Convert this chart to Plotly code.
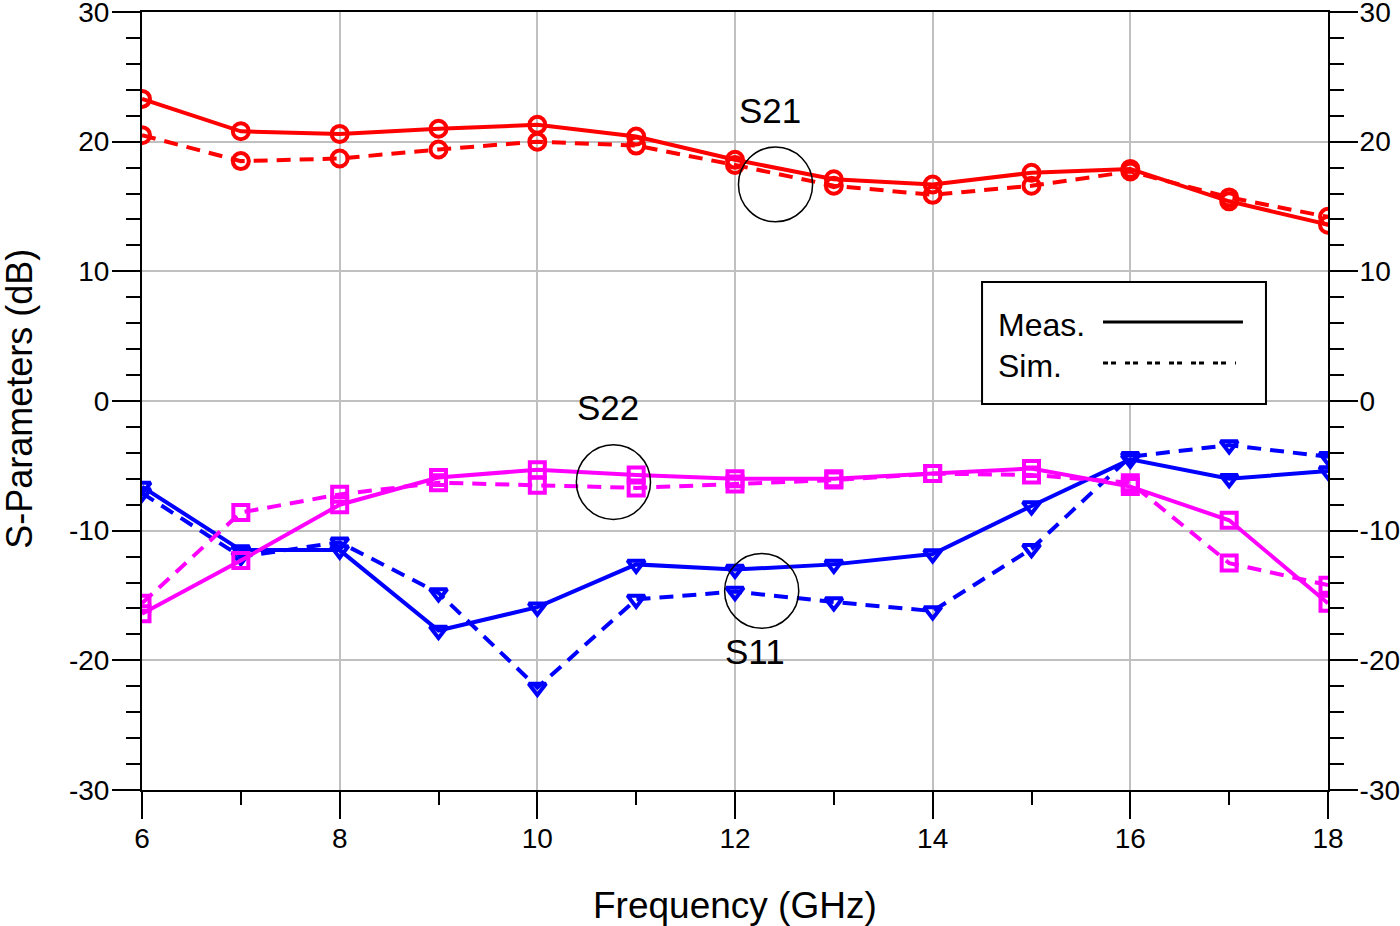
import plotly.graph_objects as go

# frequency points (GHz)
freq = [6, 7, 8, 9, 10, 11, 12, 13, 14, 15, 16, 17, 18]

# S21
s21_meas = [23.3, 20.8, 20.6, 21.0, 21.3, 20.4, 18.6, 17.1, 16.7, 17.6, 17.9, 15.4, 13.6]
s21_sim = [20.5, 18.5, 18.7, 19.4, 20.0, 19.7, 18.2, 16.6, 15.9, 16.6, 17.7, 15.7, 14.2]

# S22
s22_meas = [-16.4, -12.3, -8.0, -5.9, -5.3, -5.7, -6.0, -6.0, -5.6, -5.2, -6.6, -9.2, -15.6]
s22_sim = [-15.6, -8.6, -7.2, -6.3, -6.5, -6.7, -6.4, -6.1, -5.6, -5.7, -6.3, -12.5, -14.2]

# S11
s11_meas = [-6.6, -11.5, -11.5, -17.7, -15.9, -12.6, -13.0, -12.6, -11.8, -8.1, -4.5, -6.0, -5.4]
s11_sim = [-7.1, -12.0, -10.9, -14.8, -22.1, -15.3, -14.7, -15.5, -16.2, -11.4, -4.3, -3.4, -4.3]

# tick labels (plain hyphen like the original)
x_ticks = [6, 8, 10, 12, 14, 16, 18]
y_ticks = [-30, -20, -10, 0, 10, 20, 30]
y_ticklabels = ['-30', '-20', '-10', '0', '10', '20', '30']

# labels with circles: name, circle centre (GHz, dB), label position (GHz, dB)
labels = ['S21', 'S22', 'S11']
circle_x = [12.41, 10.77, 12.27]
circle_y = [16.7, -6.25, -14.65]
label_x = [12.35, 10.72, 12.2]
label_y = [22.4, -0.5, -19.35]

FONT = 'Arial, Liberation Sans, sans-serif'
DASH = '14px,9px'

fig = go.Figure()

series = [
    (s11_meas, s11_sim, '#0000FF', 'triangle-down-open', 15),
    (s22_meas, s22_sim, '#FF00FF', 'square-open', 15),
    (s21_meas, s21_sim, '#FF0000', 'circle-open', 16),
]
for meas, sim, color, symbol, msize in series:
    fig.add_trace(go.Scatter(x=freq, y=sim, mode='lines+markers', showlegend=False,
                             line=dict(color=color, width=4, dash=DASH),
                             marker=dict(symbol=symbol, size=msize, color=color,
                                         line=dict(color=color, width=4))))
    fig.add_trace(go.Scatter(x=freq, y=meas, mode='lines+markers', showlegend=False,
                             line=dict(color=color, width=4),
                             marker=dict(symbol=symbol, size=msize, color=color,
                                         line=dict(color=color, width=4))))

# nothing drawn, just so the right hand axis gets rendered
fig.add_trace(go.Scatter(x=freq, y=s21_meas, yaxis='y2', mode='none',
                         showlegend=False, hoverinfo='skip'))

# circles + labels
rx, ry = 0.375, 2.88
for name, cx, cy, lx, ly in zip(labels, circle_x, circle_y, label_x, label_y):
    fig.add_shape(type='circle', xref='x', yref='y', x0=cx - rx, x1=cx + rx,
                  y0=cy - ry, y1=cy + ry, line=dict(color='black', width=1.5))
    fig.add_annotation(x=lx, y=ly, xref='x', yref='y', text=name, showarrow=False,
                       xanchor='center', yanchor='middle',
                       font=dict(family=FONT, size=35, color='black'))

# hand drawn legend box (text left, line sample right)
fig.add_shape(type='rect', xref='paper', yref='paper', x0=0.7083, x1=0.9477,
              y0=0.4961, y1=0.6530, fillcolor='white', layer='above',
              line=dict(color='black', width=2))
fig.add_shape(type='line', xref='paper', yref='paper', x0=0.8103, x1=0.9283,
              y0=0.6015, y1=0.6015, layer='above', line=dict(color='black', width=3))
fig.add_shape(type='line', xref='paper', yref='paper', x0=0.8103, x1=0.9224,
              y0=0.5488, y1=0.5488, layer='above',
              line=dict(color='black', width=3, dash='5px,3px,5px,9px'))
fig.add_annotation(x=0.7201, y=0.5977, xref='paper', yref='paper', text='Meas.',
                   xanchor='left', yanchor='middle', showarrow=False,
                   font=dict(family=FONT, size=32, color='black'))
fig.add_annotation(x=0.7201, y=0.545, xref='paper', yref='paper', text='Sim.',
                   xanchor='left', yanchor='middle', showarrow=False,
                   font=dict(family=FONT, size=32, color='black'))

# axis titles
fig.add_annotation(x=-0.103, y=0.5026, xref='paper', yref='paper', text='S-Parameters (dB)',
                   textangle=-90, xanchor='center', yanchor='middle', showarrow=False,
                   font=dict(family=FONT, size=36, color='black'))
fig.add_annotation(x=0.5, y=-0.149, xref='paper', yref='paper', text='Frequency (GHz)',
                   xanchor='center', yanchor='middle', showarrow=False,
                   font=dict(family=FONT, size=37, color='black'))

tickfont = dict(family=FONT, size=28, color='black')
yminor = dict(dtick=2, ticks='outside', ticklen=14, tickwidth=2, tickcolor='black', showgrid=False)
fig.update_layout(
    width=1400, height=926,
    margin=dict(l=142, r=72, t=12, b=136, autoexpand=False),
    plot_bgcolor='white', paper_bgcolor='white',
    xaxis=dict(range=[6, 18], tickvals=x_ticks, showgrid=True, gridcolor='#c0c0c0', gridwidth=2,
               zeroline=False, showline=True, linecolor='black', linewidth=2, mirror=True,
               ticks='outside', ticklen=27, tickwidth=2, tickcolor='black', tickfont=tickfont,
               ticklabeloverflow='allow', automargin=False, ticklabelstandoff=-5,
               minor=dict(dtick=1, ticks='outside', ticklen=13, tickwidth=2, tickcolor='black',
                          showgrid=False)),
    yaxis=dict(range=[-30, 30], tickvals=y_ticks, ticktext=y_ticklabels,
               showgrid=True, gridcolor='#c0c0c0', gridwidth=2,
               zeroline=False, showline=True, linecolor='black', linewidth=2, mirror=True,
               ticks='outside', ticklen=28, tickwidth=2, tickcolor='black', tickfont=tickfont,
               ticklabeloverflow='allow', automargin=False, ticklabelstandoff=-3, minor=yminor),
    yaxis2=dict(range=[-30, 30], tickvals=y_ticks, ticktext=y_ticklabels,
                overlaying='y', side='right', anchor='x',
                showgrid=False, zeroline=False, showline=True, linecolor='black', linewidth=2,
                ticks='outside', ticklen=28, tickwidth=2, tickcolor='black', tickfont=tickfont,
                ticklabeloverflow='allow', automargin=False, ticklabelstandoff=-4, minor=yminor),
)

# drop the default page margin so the figure sits at the window corner
fig.write_html("out.html", config={'displayModeBar': False},
               post_script="document.body.style.margin='0';")
